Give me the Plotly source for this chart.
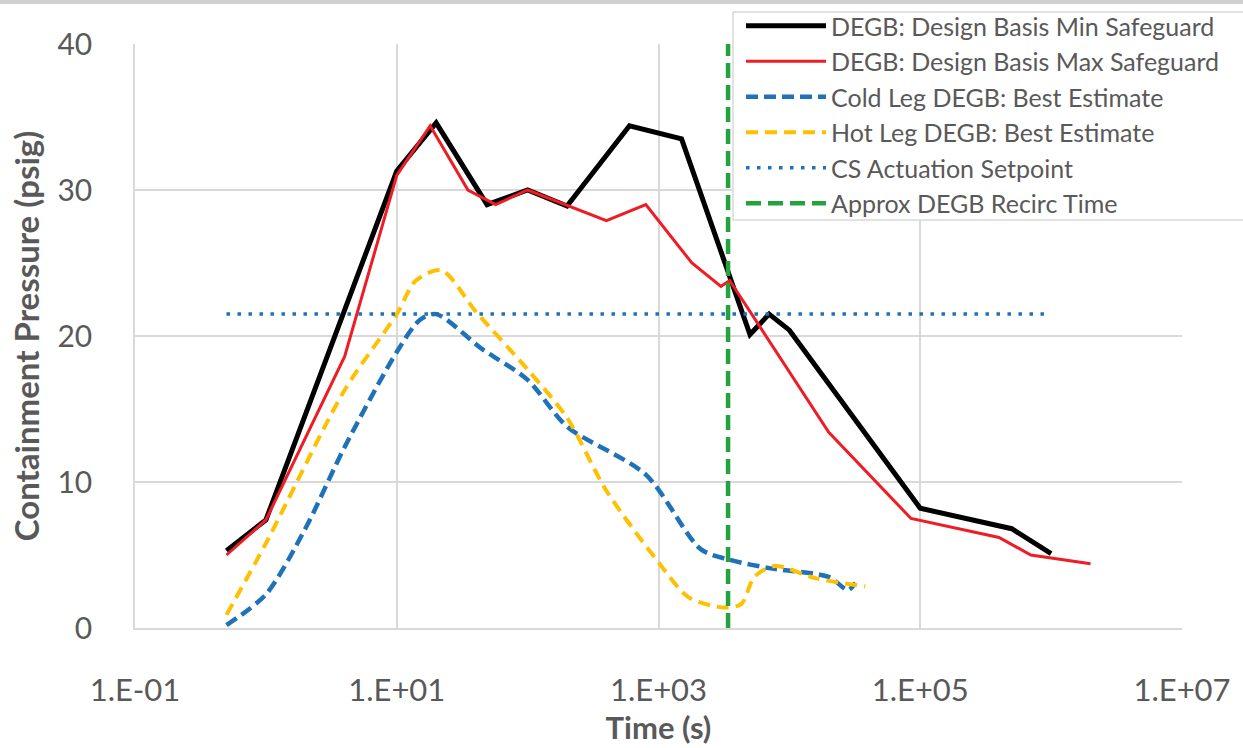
import plotly.graph_objects as go

# Containment pressure response (psig) versus time after break (s)
t_min = [0.5, 1, 10, 20, 49, 100, 200, 600, 1500, 5000, 7000, 10000, 1e5, 5e5, 1e6]
p_min = [5.3, 7.4, 31.3, 34.6, 29.0, 30.0, 28.9, 34.4, 33.5, 20.1, 21.5, 20.4, 8.2, 6.8, 5.1]

t_max = [0.5, 1, 4, 10, 18, 35, 57, 100, 400, 800, 1800, 3000, 3500, 20000, 85000, 4e5, 7e5, 2e6]
p_max = [5.0, 7.4, 18.6, 31.0, 34.4, 30.0, 29.0, 30.0, 27.9, 29.0, 25.0, 23.4, 23.8, 13.4, 7.5, 6.2, 5.0, 4.4]

t_cold = [0.5, 1, 2, 4, 10, 15, 20, 45, 100, 200, 800, 2100, 3400, 7000, 20000, 28000, 32000]
p_cold = [0.2, 2.3, 6.8, 12.4, 18.9, 21.1, 21.5, 19.1, 17.0, 13.8, 10.5, 5.4, 4.7, 4.1, 3.5, 2.6, 3.1]

t_hot = [0.5, 1, 4, 10, 14, 22, 40, 100, 200, 400, 1000, 1700, 3200, 4300, 5400, 7700, 16000, 38000]
p_hot = [0.9, 5.8, 16.3, 21.5, 23.8, 24.5, 21.7, 17.7, 14.4, 9.4, 4.5, 2.1, 1.4, 1.65, 3.5, 4.25, 3.4, 2.85]

t_cs = [0.5, 9e5]
p_cs = [21.5, 21.5]

t_recirc = [3400, 3400]
p_recirc = [0, 40]

x_tickvals = [0.1, 10, 1e3, 1e5, 1e7]
x_ticktext = ["1.E-01", "1.E+01", "1.E+03", "1.E+05", "1.E+07"]
y_tickvals = [0, 10, 20, 30, 40]

GREY_TEXT = "#595959"
GRID = "#d9d9d9"
FONT = "Lato, Open Sans, sans-serif"

FIG_W, FIG_H = 1243, 748


def cx(p):
    return p / FIG_W


def cy(p):
    return 1 - p / FIG_H


fig = go.Figure()

series = [
    ("DEGB: Design Basis Min Safeguard", t_min, p_min, dict(color="#000000", width=5), "linear"),
    ("DEGB: Design Basis Max Safeguard", t_max, p_max, dict(color="#ee1c24", width=3), "linear"),
    ("Cold Leg DEGB: Best Estimate", t_cold, p_cold, dict(color="#1f72b8", width=4.5, dash="12px,6px"), "spline"),
    ("Hot Leg DEGB: Best Estimate", t_hot, p_hot, dict(color="#ffc000", width=4, dash="12px,7px"), "spline"),
    ("CS Actuation Setpoint", t_cs, p_cs, dict(color="#1f72b8", width=3.5, dash="3.5px,7.5px"), "linear"),
    ("Approx DEGB Recirc Time", t_recirc, p_recirc, dict(color="#23a23d", width=4.5, dash="15px,7px"), "linear"),
]

for i, (name, xs, ys, line, shape) in enumerate(series):
    ln = dict(line)
    ln["shape"] = shape
    if shape == "spline":
        ln["smoothing"] = 0.8
    fig.add_trace(go.Scatter(
        x=xs, y=ys, mode="lines", name=name, line=ln,
        legendgroup=f"g{i}", hoverinfo="skip",
    ))

fig.update_layout(
    width=FIG_W, height=FIG_H,
    margin=dict(l=135, r=61, t=44, b=120, autoexpand=False),
    paper_bgcolor="white", plot_bgcolor="white",
    font=dict(family=FONT, color=GREY_TEXT),
    showlegend=True,
    legend=dict(
        xref="container", yref="container",
        x=cx(741), y=cy(3), xanchor="left", yanchor="top",
        bgcolor="rgba(0,0,0,0)", borderwidth=0,
        font=dict(family=FONT, size=25, color=GREY_TEXT),
        tracegroupgap=0, itemwidth=80,
    ),
    shapes=[
        # thin grey band along the top edge
        dict(type="rect", xref="paper", yref="paper",
             x0=-0.2, x1=1.2, y0=1 + 40 / 584, y1=1 + 50 / 584,
             fillcolor="#d0d0d0", line=dict(width=0), layer="below"),
        # legend frame
        dict(type="rect", xref="paper", yref="paper",
             x0=(733 - 135) / 1047, x1=(1260 - 135) / 1047,
             y0=1 - (220 - 44) / 584, y1=1 + (44 - 12) / 584,
             fillcolor="white", line=dict(color=GRID, width=1.5), layer="above"),
    ],
)

fig.update_xaxes(
    type="log", range=[-1, 7], automargin=False,
    tickvals=x_tickvals, ticktext=x_ticktext,
    showgrid=True, gridcolor=GRID, gridwidth=1.5,
    showline=True, linecolor=GRID, linewidth=1.5,
    zeroline=False, ticks="", ticklabelstandoff=34,
    tickfont=dict(family=FONT, size=31, color=GREY_TEXT),
    title=dict(text="<b>Time (s)</b>", font=dict(family=FONT, size=31, color=GREY_TEXT), standoff=10),
)
fig.update_yaxes(
    range=[0, 40], tickvals=y_tickvals, automargin=False,
    showgrid=True, gridcolor=GRID, gridwidth=1.5,
    showline=True, linecolor=GRID, linewidth=1.5,
    zeroline=False, ticks="", ticklabelstandoff=35,
    tickfont=dict(family=FONT, size=30, color=GREY_TEXT),
    title=dict(text="<b>Containment Pressure (psig)</b>", font=dict(family=FONT, size=33, color=GREY_TEXT), standoff=8),
)

fig.write_html("out.html")
